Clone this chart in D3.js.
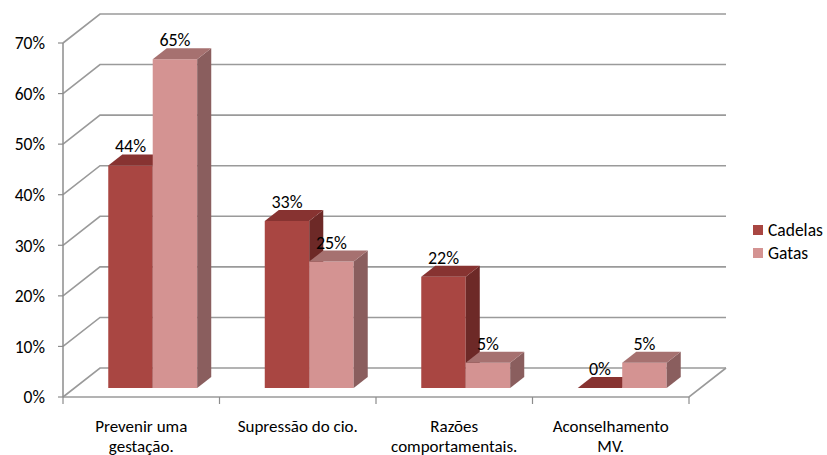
<!DOCTYPE html>
<html>
<head>
<meta charset="utf-8">
<script src="https://cdn.jsdelivr.net/npm/d3@7/dist/d3.min.js"></script>
<style>
  html, body { margin: 0; padding: 0; background: #ffffff; }
  svg { display: block; font-family: Carlito, Calibri, Lato, "Open Sans", sans-serif; }
</style>
</head>
<body>
<svg id="chart" width="827" height="455"></svg>
<script>
// Categories (label lines) and series values
const categoryLines = [
  ["Prevenir uma", "gestação."],
  ["Supressão do cio."],
  ["Razões", "comportamentais."],
  ["Aconselhamento", "MV."]
];
const seriesNames = ["Cadelas", "Gatas"];
const cadelas = [0.44, 0.33, 0.22, 0.00];
const gatas   = [0.65, 0.25, 0.05, 0.05];
const yTickValues = [0, 0.1, 0.2, 0.3, 0.4, 0.5, 0.6, 0.7];
const yTickLabels = ["0%", "10%", "20%", "30%", "40%", "50%", "60%", "70%"];
const valueLabels = [
  ["44%", "33%", "22%", "0%"],
  ["65%", "25%", "5%", "5%"]
];

// Face colours per series: front, top, side
const faceColors = [
  { front: "#a94642", top: "#873331", side: "#6d2927" },
  { front: "#d49392", top: "#a67170", side: "#8a5e5e" }
];

const svg = d3.select("#chart");

// Front plane of the 3-D box
const x0 = 63, x1 = 689, yBase = 397, yTopPx = 43;
// Oblique depth offset of the back wall
const DX = 37, DY = -29;
// Depth placement of the bars inside the box (fractions of full depth)
const barD0 = 0.31, barD1 = 0.69;

const y = d3.scaleLinear().domain([0, 0.7]).range([yBase, yTopPx]);
const cats = categoryLines.map((l, i) => i);
const xBand = d3.scaleBand().domain(cats).range([x0, x1]).padding(0);
const xSeries = d3.scaleBand().domain(seriesNames).range([0, xBand.bandwidth()])
  .paddingInner(0).paddingOuter(0.76);

const P = (x, yy, d) => [x + DX * d, yy + DY * d];
const poly = pts => "M" + pts.map(p => p[0] + "," + p[1]).join("L") + "Z";
const line = pts => "M" + pts.map(p => p[0] + "," + p[1]).join("L");

const gridColor = "#9a9a9a";
const g = svg.append("g");

// Back wall gridlines and side wall diagonals
yTickValues.forEach(v => {
  const yy = y(v);
  const a = P(x0, yy, 0), b = P(x0, yy, 1), c = P(x1, yy, 1);
  g.append("path").attr("d", line([a, b, c]))
    .attr("fill", "none").attr("stroke", gridColor).attr("stroke-width", 1.6);
});

// Floor: front edge and right edge
g.append("path")
  .attr("d", line([P(x0, yBase, 0), P(x1, yBase, 0), P(x1, yBase, 1)]))
  .attr("fill", "none").attr("stroke", gridColor).attr("stroke-width", 1.6);

// Front vertical axis
g.append("line").attr("x1", x0).attr("x2", x0).attr("y1", y(0.7)).attr("y2", yBase)
  .attr("stroke", "#8c8c8c").attr("stroke-width", 1.5);

// Value axis ticks and labels
yTickValues.forEach((v, i) => {
  g.append("line").attr("x1", x0 - 5).attr("x2", x0).attr("y1", y(v)).attr("y2", y(v))
    .attr("stroke", "#8c8c8c").attr("stroke-width", 1.2);
  g.append("text").attr("x", 45).attr("y", y(v)).attr("dy", "0.36em")
    .attr("text-anchor", "end").attr("font-size", 17.5).attr("fill", "#000")
    .text(yTickLabels[i]);
});

// Category axis ticks
d3.range(categoryLines.length + 1).forEach(i => {
  const xx = x0 + i * xBand.step();
  g.append("line").attr("x1", xx).attr("x2", xx).attr("y1", yBase).attr("y2", yBase + 7)
    .attr("stroke", "#8c8c8c").attr("stroke-width", 1.2);
});

// Category labels
categoryLines.forEach((lines, i) => {
  const cx = xBand(i) + xBand.bandwidth() / 2;
  const t = g.append("text").attr("text-anchor", "middle").attr("font-size", 17)
    .attr("fill", "#000");
  lines.forEach((ln, j) => {
    t.append("tspan").attr("x", cx).attr("y", 432 + j * 20).text(ln);
  });
});

// Bars: draw series in order so later (right) bars overlap earlier side faces
const seriesValues = [cadelas, gatas];
const bars = g.append("g");
cats.forEach(ci => {
  seriesNames.forEach((s, si) => {
    const v = seriesValues[si][ci];
    const bx = xBand(ci) + xSeries(s);
    const bw = xSeries.bandwidth();
    const yt = y(v), yb = y(0);
    const col = faceColors[si];
    if (v > 0) {
      // front face
      bars.append("path").attr("d", poly([P(bx, yt, barD0), P(bx + bw, yt, barD0),
        P(bx + bw, yb, barD0), P(bx, yb, barD0)]))
        .attr("fill", col.front);
      // side face
      bars.append("path").attr("d", poly([P(bx + bw, yt, barD0), P(bx + bw, yt, barD1),
        P(bx + bw, yb, barD1), P(bx + bw, yb, barD0)]))
        .attr("fill", col.side);
    }
    // top face
    bars.append("path").attr("d", poly([P(bx, yt, barD0), P(bx + bw, yt, barD0),
      P(bx + bw, yt, barD1), P(bx, yt, barD1)]))
      .attr("fill", col.top);
    // value label above the back edge of the top face
    const lp = P(bx + bw / 2, yt, barD1);
    bars.append("text").attr("x", P(bx + bw / 2, yt, barD0)[0]).attr("y", lp[1] - 2)
      .attr("text-anchor", "middle").attr("font-size", 18).attr("fill", "#000")
      .text(valueLabels[si][ci]);
  });
});

// Legend
const legend = svg.append("g").attr("transform", "translate(753,225)");
seriesNames.forEach((s, i) => {
  legend.append("rect").attr("x", 0).attr("y", i * 23).attr("width", 10).attr("height", 10)
    .attr("fill", faceColors[i].front);
  legend.append("text").attr("x", 15).attr("y", i * 23 + 5).attr("dy", "0.36em")
    .attr("font-size", 17.5).attr("fill", "#000").text(s);
});
</script>
</body>
</html>
